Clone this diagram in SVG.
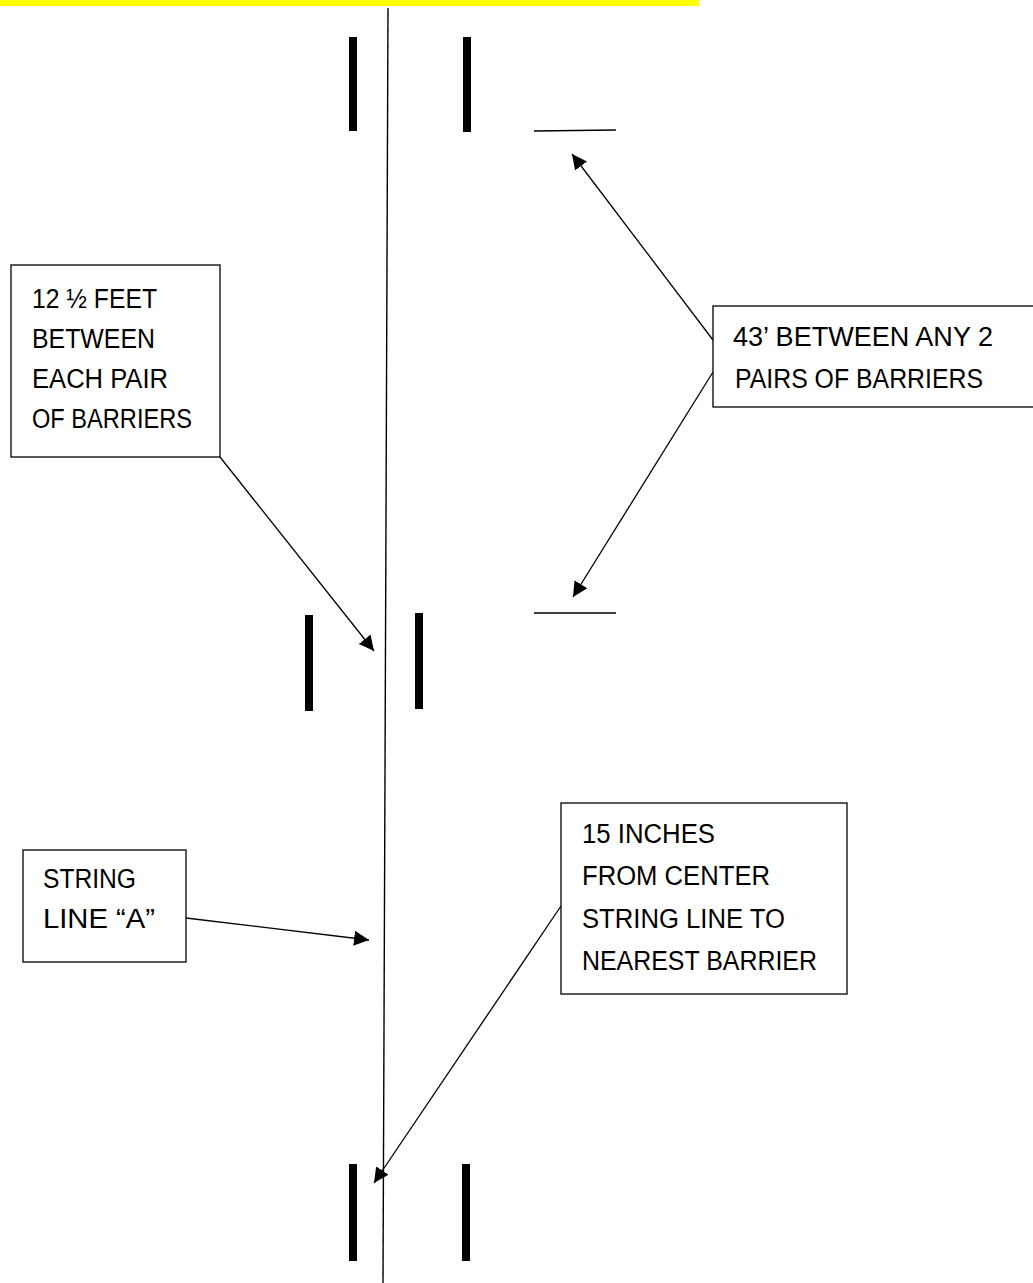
<svg xmlns="http://www.w3.org/2000/svg" width="1033" height="1283" viewBox="0 0 1033 1283">
<style>
.box{fill:#fff;stroke:#000;stroke-width:1.3}
.lbl{font-family:"Liberation Sans",Arial,sans-serif;font-size:27px;fill:#000}
.bar{fill:#000}
.conn{stroke:#000;stroke-width:1.3;fill:none}
.tick{stroke:#000;stroke-width:1.5}
</style>
<defs>
<marker id="ah" viewBox="0 0 10 10" refX="10" refY="5" markerWidth="15" markerHeight="15" markerUnits="userSpaceOnUse" orient="auto">
<path d="M0,0 L10,5 L0,10 z" fill="#000"/>
</marker>
</defs>
<rect x="0" y="0" width="699" height="6" fill="#ffff00"/>
<g id="string-line">
<line x1="388" y1="8" x2="383" y2="1283" stroke="#000" stroke-width="1.4"/>
</g>
<g id="barriers-top">
<rect class="bar" x="349" y="37" width="8" height="94"/>
<rect class="bar" x="463" y="37" width="8" height="95"/>
</g>
<g id="barriers-mid">
<rect class="bar" x="305" y="615" width="8" height="96"/>
<rect class="bar" x="415" y="613" width="8" height="96"/>
</g>
<g id="barriers-bottom">
<rect class="bar" x="349" y="1164" width="8" height="97"/>
<rect class="bar" x="462" y="1164" width="8" height="97"/>
</g>
<g id="ticks">
<line class="tick" x1="534" y1="131" x2="616" y2="130"/>
<line class="tick" x1="534" y1="613" x2="616" y2="613"/>
</g>
<g id="connectors">
<line class="conn" x1="220" y1="457" x2="374" y2="651" marker-end="url(#ah)"/>
<line class="conn" x1="713" y1="340" x2="572" y2="154" marker-end="url(#ah)"/>
<line class="conn" x1="713" y1="372" x2="573" y2="597" marker-end="url(#ah)"/>
<line class="conn" x1="186" y1="918" x2="369" y2="940" marker-end="url(#ah)"/>
<line class="conn" x1="561" y1="906" x2="374" y2="1183" marker-end="url(#ah)"/>
</g>
<g id="node-12feet">
<rect class="box" x="11" y="265" width="209" height="192"/>
<text class="lbl" x="32" y="308" textLength="125" lengthAdjust="spacingAndGlyphs">12 ½ FEET</text>
<text class="lbl" x="32" y="348" textLength="123" lengthAdjust="spacingAndGlyphs">BETWEEN</text>
<text class="lbl" x="32" y="388" textLength="136" lengthAdjust="spacingAndGlyphs">EACH PAIR</text>
<text class="lbl" x="32" y="428" textLength="160" lengthAdjust="spacingAndGlyphs">OF BARRIERS</text>
</g>
<g id="node-43ft">
<rect class="box" x="713" y="306" width="330" height="101"/>
<text class="lbl" x="733" y="346" textLength="260" lengthAdjust="spacingAndGlyphs">43’ BETWEEN ANY 2</text>
<text class="lbl" x="735" y="388" textLength="248" lengthAdjust="spacingAndGlyphs">PAIRS OF BARRIERS</text>
</g>
<g id="node-stringA">
<rect class="box" x="23" y="850" width="163" height="112"/>
<text class="lbl" x="43" y="888" textLength="93" lengthAdjust="spacingAndGlyphs">STRING</text>
<text class="lbl" x="43" y="928" textLength="112" lengthAdjust="spacingAndGlyphs">LINE “A”</text>
</g>
<g id="node-15inches">
<rect class="box" x="561" y="803" width="286" height="191"/>
<text class="lbl" x="582" y="843" textLength="133" lengthAdjust="spacingAndGlyphs">15 INCHES</text>
<text class="lbl" x="582" y="885" textLength="188" lengthAdjust="spacingAndGlyphs">FROM CENTER</text>
<text class="lbl" x="582" y="928" textLength="203" lengthAdjust="spacingAndGlyphs">STRING LINE TO</text>
<text class="lbl" x="582" y="970" textLength="235" lengthAdjust="spacingAndGlyphs">NEAREST BARRIER</text>
</g>
</svg>
